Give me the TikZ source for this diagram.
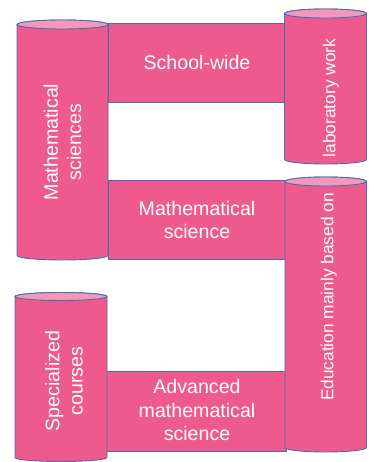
\documentclass[tikz,border=0pt]{standalone}
\usepackage{fontspec}
\setmainfont{Liberation Sans}
\definecolor{pinkfill}{HTML}{EE5A8E}
\definecolor{pinktop}{HTML}{F299BB}
\definecolor{edgeblue}{HTML}{4C6BB0}
\tikzset{
  boxshape/.style={fill=pinkfill, draw=edgeblue, line width=0.9pt},
  cylbody/.style={fill=pinkfill, draw=edgeblue, line width=0.9pt},
  cyltop/.style={fill=pinktop, draw=edgeblue, line width=0.9pt},
  bigtext/.style={text=white, align=center, font=\fontsize{19.6}{23.2}\selectfont, inner sep=0pt},
  smalltext/.style={text=white, align=center, font=\fontsize{17.3}{20.5}\selectfont, inner sep=0pt}
}
% #1 x left, #2 x right, #3 y top centre, #4 y bottom centre, #5 y radius
\newcommand{\mycyl}[5]{%
  \pgfmathsetmacro{\rxx}{(#2-#1)/2}%
  \pgfmathsetmacro{\cxx}{(#2+#1)/2}%
  \path[cylbody] (#1,#3) -- (#1,#4) arc[start angle=180,end angle=0,x radius=\rxx,y radius=#5] -- (#2,#3) arc[start angle=0,end angle=-180,x radius=\rxx,y radius=#5] -- cycle;
  \path[cyltop] (\cxx,#3) ellipse[x radius=\rxx,y radius=#5];
}
\begin{document}
\begin{tikzpicture}[x=1pt,y=-1pt]
\useasboundingbox (0,0) rectangle (368,462);
% boxes
\path[boxshape] (108,23) rectangle (286,102);
\path[boxshape] (108,180) rectangle (286,259);
\path[boxshape] (106,371) rectangle (286,451);
% cylinders
\mycyl{17}{108}{24.5}{255.5}{4.5}
\mycyl{284.5}{366.5}{13.5}{159.5}{4.5}
\mycyl{285}{366.5}{181.5}{447.5}{4.5}
\mycyl{15}{107}{296.5}{457.5}{4}
% texts
\node[bigtext] (schoolwide) at (197,62.5) {School-wide};
\node[bigtext] (mathsci) at (197,220) {Mathematical\\science};
\node[bigtext] (advmath) at (197,410) {Advanced\\mathematical\\science};
\node[bigtext, rotate=90] (mathscis) at (62.5,142) {Mathematical\\sciences};
\node[bigtext, rotate=90] (special) at (64,381) {Specialized\\courses};
\node[smalltext, rotate=90] (labwork) at (331,98) {laboratory work};
\node[smalltext, rotate=90] (edu) at (329,297) {Education mainly based on};
\end{tikzpicture}
\end{document}
